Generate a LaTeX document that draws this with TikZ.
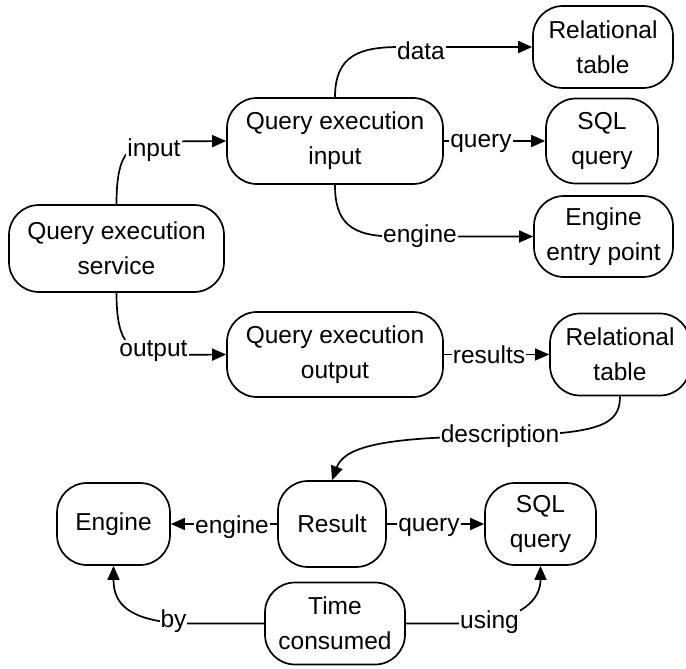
\documentclass[tikz,border=0pt]{standalone}
\usepackage{fontspec}
\setmainfont{Liberation Sans}
\usetikzlibrary{arrows.meta}
\begin{document}
\begin{tikzpicture}[x=1pt,y=-1pt]
\tikzset{
  box/.style={draw, line width=1.7pt, rounded corners=30pt, align=center, inner sep=0pt, font=\fontsize{24.5}{35}\selectfont},
  lbl/.style={fill=white, inner sep=1pt, font=\fontsize{24.5}{35}\selectfont},
  ln/.style={line width=1.7pt},
  arr/.style={ln, -{Triangle[length=14pt,width=12pt]}},
}
\fill[white] (0,0) rectangle (686,669);
\useasboundingbox (0,0) rectangle (686,669);

% boxes
\node[box, minimum width=215pt, minimum height=87pt] (qes) at (116.5,248.5) {Query execution\\service};
\node[box, minimum width=216pt, minimum height=86pt] (qei) at (335,141) {Query execution\\input};
\node[box, minimum width=140pt, minimum height=82pt] (rt1) at (603,47) {Relational\\table};
\node[box, minimum width=112pt, minimum height=85pt] (sql1) at (602,141) {SQL\\query};
\node[box, minimum width=139pt, minimum height=81pt] (eep) at (603.5,236.5) {Engine\\entry point};
\node[box, minimum width=216pt, minimum height=85pt] (qeo) at (335,354.5) {Query execution\\output};
\node[box, minimum width=140pt, minimum height=82pt] (rt2) at (620,354.5) {Relational\\table};
\node[box, minimum width=108pt, minimum height=86pt] (result) at (332,524) {Result};
\node[box, minimum width=113pt, minimum height=82pt] (engine) at (113.5,524) {Engine};
\node[box, minimum width=111pt, minimum height=82pt] (sql2) at (540.5,524) {SQL\\query};
\node[box, minimum width=140pt, minimum height=82pt] (tc) at (335,623.5) {Time\\consumed};

% connectors
\draw[arr] (qes.north) .. controls (116.5,150) and (130,141.5) .. (165,141.5) -- (qei.west);
\draw[arr] (qes.south) .. controls (116.5,345) and (130,355) .. (165,355) -- (qeo.west);
\draw[arr] (qei.north) .. controls (335,55) and (360,47) .. (400,47) -- (rt1.west);
\draw[arr] (qei.east) -- (sql1.west);
\draw[arr] (qei.south) .. controls (335,222) and (350,236.5) .. (395,236.5) -- (eep.west);
\draw[arr] (qeo.east) -- (rt2.west);
\draw[arr] (rt2.south) .. controls (620,425) and (600,434) .. (500,436) .. controls (390,437) and (345,445) .. (result.north);
\draw[arr] (result.west) -- (engine.east);
\draw[arr] (result.east) -- (sql2.west);
\draw[arr] (tc.west) -- (180,623.5) .. controls (130,620) and (113.5,605) .. (engine.south);
\draw[arr] (tc.east) -- (480,623.5) .. controls (530,615) and (540.5,595) .. (sql2.south);

% labels
\node[lbl] (linput) at (154,150) {input};
\node[lbl] (loutput) at (153.5,351) {output};
\node[lbl] (ldata) at (421,51) {data};
\node[lbl] (lquery1) at (481,143) {query};
\node[lbl] (lengine1) at (420,236) {engine};
\node[lbl] (lresults) at (489,355) {results};
\node[lbl] (ldesc) at (500,436) {description};
\node[lbl] (lengine2) at (232,527) {engine};
\node[lbl] (lquery2) at (429,527) {query};
\node[lbl] (lby) at (173.5,621) {by};
\node[lbl] (lusing) at (489.5,622) {using};
\end{tikzpicture}
\end{document}
